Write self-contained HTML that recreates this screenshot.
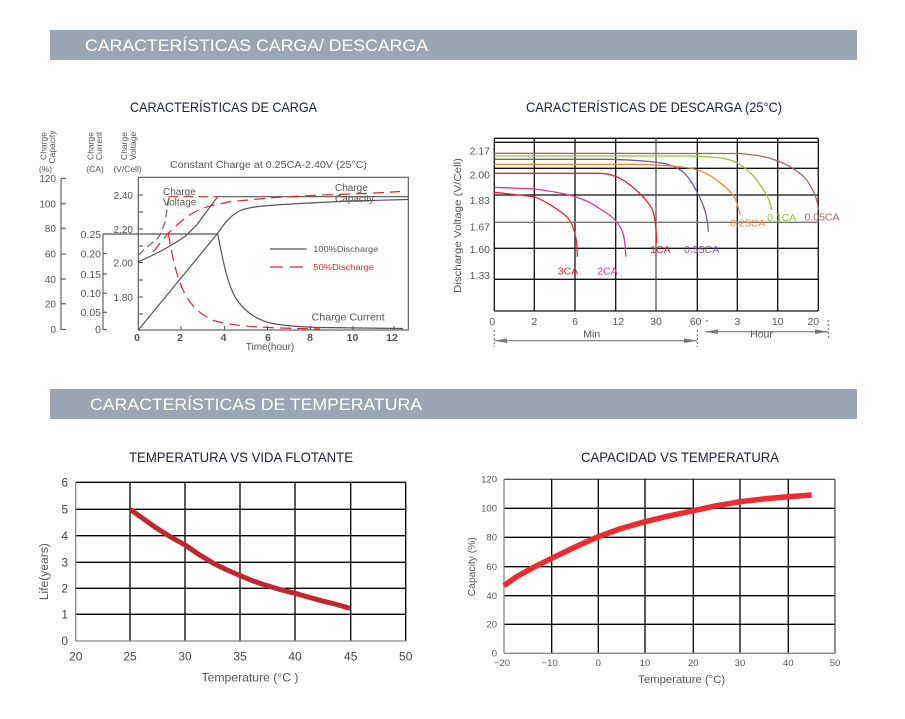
<!DOCTYPE html>
<html><head><meta charset="utf-8"><style>
html,body{margin:0;padding:0;background:#fff;}
svg{display:block;}
text{font-family:"Liberation Sans",sans-serif;}
</style></head><body>
<svg width="905" height="719" viewBox="0 0 905 719" xmlns="http://www.w3.org/2000/svg">
<rect width="905" height="719" fill="#fff"/>

<!-- Header bars -->
<rect x="50" y="30" width="807" height="30" fill="#9ba6b4"/>
<text x="85" y="51" font-size="17" fill="#fff" textLength="343" lengthAdjust="spacingAndGlyphs">CARACTERÍSTICAS CARGA/ DESCARGA</text>
<rect x="50" y="389" width="807" height="30" fill="#9ba6b4"/>
<text x="90" y="410" font-size="17" fill="#fff" textLength="332" lengthAdjust="spacingAndGlyphs">CARACTERÍSTICAS DE TEMPERATURA</text>

<!-- Titles -->
<text x="130" y="112" font-size="14" fill="#1c2033" textLength="187" lengthAdjust="spacingAndGlyphs">CARACTERÍSTICAS DE CARGA</text>
<text x="526" y="112" font-size="14" fill="#1c2033" textLength="256" lengthAdjust="spacingAndGlyphs">CARACTERÍSTICAS DE DESCARGA (25°C)</text>
<text x="129" y="462" font-size="14" fill="#1c2033" textLength="224" lengthAdjust="spacingAndGlyphs">TEMPERATURA VS VIDA FLOTANTE</text>
<text x="581" y="462" font-size="14" fill="#1c2033" textLength="198" lengthAdjust="spacingAndGlyphs">CAPACIDAD VS TEMPERATURA</text>

<!-- ================= CHARGE CHART ================= -->
<g fill="#555" font-size="8.5">
  <text transform="translate(46.5,146) rotate(-90)" text-anchor="middle">Charge</text>
  <text transform="translate(55,147) rotate(-90)" text-anchor="middle">Capacity</text>
  <text x="45.5" y="172" text-anchor="middle">(%)</text>
  <text transform="translate(93.5,146) rotate(-90)" text-anchor="middle">Charge</text>
  <text transform="translate(102,146) rotate(-90)" text-anchor="middle">Current</text>
  <text x="95" y="172" text-anchor="middle">(CA)</text>
  <text transform="translate(127,146) rotate(-90)" text-anchor="middle">Charge</text>
  <text transform="translate(136,146) rotate(-90)" text-anchor="middle">Voltage</text>
  <text x="127.5" y="172" text-anchor="middle">(V/Cell)</text>
</g>
<text x="170" y="168" font-size="10" fill="#555" textLength="197" lengthAdjust="spacingAndGlyphs">Constant Charge at 0.25CA-2.40V  (25°C)</text>

<!-- capacity axis -->
<g stroke="#555" stroke-width="1.1" fill="none">
  <line x1="61" y1="178" x2="61" y2="330"/>
  <line x1="61" y1="178.3" x2="66" y2="178.3"/>
  <line x1="61" y1="203.7" x2="66" y2="203.7"/>
  <line x1="61" y1="228.3" x2="66" y2="228.3"/>
  <line x1="61" y1="254" x2="66" y2="254"/>
  <line x1="61" y1="279" x2="66" y2="279"/>
  <line x1="61" y1="303.7" x2="66" y2="303.7"/>
  <line x1="61" y1="329.5" x2="66" y2="329.5"/>
  <!-- current axis -->
  <line x1="103" y1="234" x2="103" y2="330"/>
  <line x1="103" y1="253.7" x2="107" y2="253.7"/>
  <line x1="103" y1="274" x2="107" y2="274"/>
  <line x1="103" y1="293.3" x2="107" y2="293.3"/>
  <line x1="103" y1="312.3" x2="107" y2="312.3"/>
  <line x1="103" y1="329.5" x2="107" y2="329.5"/>
  <!-- box -->
  <rect x="138.3" y="177.3" width="270" height="152.7"/>
  <!-- voltage ticks -->
  <line x1="138.3" y1="195" x2="143" y2="195"/>
  <line x1="138.3" y1="212" x2="143" y2="212"/>
  <line x1="138.3" y1="229" x2="143" y2="229"/>
  <line x1="138.3" y1="246" x2="143" y2="246"/>
  <line x1="138.3" y1="262.5" x2="143" y2="262.5"/>
  <line x1="138.3" y1="280" x2="143" y2="280"/>
  <line x1="138.3" y1="297" x2="143" y2="297"/>
  <line x1="138.3" y1="314" x2="143" y2="314"/>
  <!-- x ticks -->
  <line x1="181" y1="330" x2="181" y2="326"/>
  <line x1="224.5" y1="330" x2="224.5" y2="326"/>
  <line x1="267.5" y1="330" x2="267.5" y2="326"/>
  <line x1="310.5" y1="330" x2="310.5" y2="326"/>
  <line x1="353" y1="330" x2="353" y2="326"/>
  <line x1="394" y1="330" x2="394" y2="326"/>
</g>
<g fill="#555" font-size="10" text-anchor="end">
  <text x="56" y="182">120</text>
  <text x="56" y="207.5">100</text>
  <text x="56" y="232">80</text>
  <text x="56" y="257.5">60</text>
  <text x="56" y="283">40</text>
  <text x="56" y="307.5">20</text>
  <text x="56" y="333">0</text>
  <text x="101" y="238" font-size="10.5">0.25</text>
  <text x="101" y="257.5" font-size="10.5">0.20</text>
  <text x="101" y="278" font-size="10.5">0.15</text>
  <text x="101" y="297" font-size="10.5">0.10</text>
  <text x="101" y="316" font-size="10.5">0.05</text>
  <text x="101" y="333" font-size="10.5">0</text>
  <text x="133" y="199">2.40</text>
  <text x="133" y="233">2.20</text>
  <text x="133" y="266.5">2.00</text>
  <text x="133" y="301">1.80</text>
</g>
<g fill="#555" font-size="10.5" font-weight="bold" text-anchor="middle">
  <text x="137" y="341">0</text>
  <text x="180" y="341">2</text>
  <text x="223.5" y="341">4</text>
  <text x="268" y="341">6</text>
  <text x="310" y="341">8</text>
  <text x="352.5" y="341">10</text>
  <text x="392" y="341">12</text>
</g>
<text x="270" y="350" font-size="10" fill="#555" text-anchor="middle">Time(hour)</text>

<!-- charge curves -->
<g fill="none" stroke-width="1.2">
  <!-- current 0.25 horizontal -->
  <line x1="103" y1="234" x2="217.7" y2="234" stroke="#555"/>
  <!-- 100% voltage -->
  <path d="M138.3,261.7 L150,256.5 L163,250 L175,243 L185,236.5 L196.7,225 L207,211 L217.7,196.7" stroke="#555"/>
  <!-- plateau -->
  <line x1="217.7" y1="196.7" x2="408" y2="196.7" stroke="#555"/>
  <line x1="168.3" y1="196.7" x2="217.7" y2="196.7" stroke="#e0262b" stroke-dasharray="10 5"/>
  <!-- 50% voltage gray dashed -->
  <path d="M138.3,255 L145,249 L152,243 L158,238 L162,231 L165,222 L167,210 L169,197" stroke="#666" stroke-dasharray="8 4"/>
  <!-- 100% capacity -->
  <path d="M138.3,330 L217.7,233.3 C225,222 232,214 241.7,210 C250,207 262,206 275,205 L300,203.5 L350,201 L408,199.5" stroke="#555"/>
  <!-- 50% capacity red dashed -->
  <path d="M153.3,251.7 L168.3,233.3 C178,224 186,216 196.7,211 C205,207 212,205 220,204 L228,202 L253,199.5 L275,197.5 L320,195 L370,193.3 L400,191.5" stroke="#e0262b" stroke-dasharray="11 6"/>
  <!-- 100% current -->
  <path d="M217.7,234 C222,255 226,280 235,297 C242,308 252,318 270,323 C285,326 300,327 320,327.5 L403,328.5" stroke="#555"/>
  <!-- 50% current red dashed -->
  <path d="M168.3,233.3 C172,255 176,275 183,290 C190,305 200,315 215,321 C230,325 250,327 280,328 L320,329" stroke="#e0262b" stroke-dasharray="11 6"/>
  <!-- legend -->
  <line x1="270" y1="249" x2="306.7" y2="249" stroke="#555"/>
  <line x1="270" y1="267" x2="306.7" y2="267" stroke="#e0262b" stroke-dasharray="13 7"/>
</g>
<text x="313.3" y="252" font-size="8.5" fill="#555" textLength="65" lengthAdjust="spacingAndGlyphs">100%Discharge</text>
<text x="313.3" y="270" font-size="8.5" fill="#e0262b" textLength="60.7" lengthAdjust="spacingAndGlyphs">50%Discharge</text>
<g fill="#555" font-size="10">
  <text x="163" y="195">Charge</text>
  <text x="163" y="205.7">Voltage</text>
  <text x="335" y="191">Charge</text>
  <text x="335" y="202">Capacity</text>
  <text x="311.7" y="320.5" textLength="73" lengthAdjust="spacingAndGlyphs">Charge Current</text>
</g>

<!-- ================= DISCHARGE CHART ================= -->
<g stroke="#111" stroke-width="1.3" fill="none">
  <line x1="494.3" y1="138.3" x2="818.3" y2="138.3"/>
  <line x1="494.3" y1="142.3" x2="818.3" y2="142.3"/>
  <line x1="494.3" y1="168.3" x2="818.3" y2="168.3"/>
  <line x1="494.3" y1="195" x2="818.3" y2="195"/>
  <line x1="494.3" y1="248.3" x2="818.3" y2="248.3"/>
  <line x1="494.3" y1="279.3" x2="818.3" y2="279.3"/>
  <line x1="494.3" y1="311" x2="818.3" y2="311"/>
  <line x1="494.3" y1="138.3" x2="494.3" y2="311"/>
  <line x1="534.3" y1="138.3" x2="534.3" y2="311"/>
  <line x1="575" y1="138.3" x2="575" y2="311"/>
  <line x1="615.7" y1="138.3" x2="615.7" y2="311"/>
  <line x1="697.3" y1="138.3" x2="697.3" y2="311"/>
  <line x1="737.3" y1="138.3" x2="737.3" y2="311"/>
  <line x1="777.7" y1="138.3" x2="777.7" y2="311"/>
  <line x1="818.3" y1="138.3" x2="818.3" y2="311"/>
  <line x1="656" y1="138.3" x2="656" y2="311" stroke="#555"/>
  <line x1="494.3" y1="222.3" x2="818.3" y2="222.3" stroke="#777"/>
</g>
<g fill="none" stroke-width="1.3">
  <path d="M494.3,153.3 L740,153.5 C752,154.5 762,156 770,158.3 C778,161 785,163 790,166.7 C797,171 803,175 806.7,180 C811,186 813,190 815,195 C817,200 818,206 818.3,210" stroke="#a5695a"/>
  <path d="M494.3,156 L690,156 C705,156.5 715,157 723.3,158.3 C732,160 738,163 743.3,166.7 C750,172 754,176 756.7,180 C761,186 764,190 766.7,195 C769,200 771,206 771.7,210" stroke="#8dc63f"/>
  <path d="M494.3,159.3 L610,159.3 C635,160 655,162 663.3,163.3 C672,165 678,168 683,172 C690,178 695,188 699,196 C703,204 706,212 707,220 C708,226 708.3,230 708.3,231.7" stroke="#7d55a5"/>
  <path d="M494.3,164.3 L640,164.3 C660,165 675,166 690,168 C700,170 710,175 716.7,180 C723,185 727,188 730,191.7 C734,196 736,199 737.5,205 C739,210 740,214 740,215" stroke="#f7882f"/>
  <path d="M494.3,173.3 L600,173.3 C612,174 620,177 630,185 C640,193 647,200 651.7,208.3 C654,213 655,218 655.5,225 C656.5,233 656.7,238 656.7,243.3" stroke="#e9242b"/>
  <path d="M494.3,187.3 L534.3,189 C550,191 562,193 573.3,196 C585,200 592,203 596.7,206.7 C605,212 610,215 613.3,218.3 C618,223 622,228 623.5,235 C625,242 625.7,250 625.7,256.7" stroke="#e2338b"/>
  <path d="M494.3,192.3 L534.3,196.7 C545,201 558,209 566.7,216.7 C571,221 574,228 575.7,236.7 C577,244 577.3,250 577.3,256.7" stroke="#e9242b"/>
</g>
<g font-size="10.5" text-anchor="middle">
  <text x="568" y="274.5" fill="#e9242b">3CA</text>
  <text x="607.5" y="274.5" fill="#e2338b">2CA</text>
  <text x="660.3" y="253" fill="#e9242b">1CA</text>
  <text x="701.7" y="253" fill="#7d55a5">0.55CA</text>
  <text x="747.7" y="226.5" fill="#f7882f">0.25CA</text>
  <text x="781.7" y="221" fill="#8dc63f">0.1CA</text>
  <text x="822" y="220.5" fill="#a5695a">0.05CA</text>
</g>
<g fill="#555" font-size="10.5" text-anchor="end">
  <text x="490" y="154.7">2.17</text>
  <text x="490" y="178.3">2.00</text>
  <text x="490" y="204">1.83</text>
  <text x="490" y="230.7">1.67</text>
  <text x="490" y="253">1.60</text>
  <text x="490" y="279">1.33</text>
</g>
<g fill="#555" font-size="10.5" text-anchor="middle">
  <text x="492.3" y="325">0</text>
  <text x="534.3" y="325">2</text>
  <text x="575" y="325">6</text>
  <text x="618.3" y="325">12</text>
  <text x="656" y="325">30</text>
  <text x="695.7" y="325">60</text>
  <text x="737.3" y="325">3</text>
  <text x="777.7" y="325">10</text>
  <text x="813.3" y="325">20</text>
  <text x="591.7" y="337.5">Min</text>
  <text x="761.5" y="337.5">Hour</text>
</g>
<text transform="translate(461,225.5) rotate(-90)" font-size="10.5" fill="#555" text-anchor="middle" textLength="135" lengthAdjust="spacingAndGlyphs">Discharge Voltage (V/Cell)</text>
<g stroke="#666" stroke-width="1" fill="none">
  <line x1="705.5" y1="321" x2="708" y2="321"/>
  <line x1="827" y1="321" x2="829.5" y2="321"/>
  <line x1="494.3" y1="340.7" x2="697" y2="340.7"/>
  <line x1="705" y1="331.7" x2="828.3" y2="331.7"/>
  <line x1="494.3" y1="330" x2="494.3" y2="347" stroke-dasharray="2 2"/>
  <line x1="697.3" y1="330" x2="697.3" y2="347" stroke-dasharray="2 2"/>
  <line x1="828.3" y1="324" x2="828.3" y2="338" stroke-dasharray="2 2"/>
</g>
<g fill="#777">
  <polygon points="494.3,340.7 507,338.4 507,343"/>
  <polygon points="697,340.7 684,338.4 684,343"/>
  <polygon points="705,331.7 718,329.4 718,334"/>
  <polygon points="828.3,331.7 815,329.4 815,334"/>
</g>

<!-- ================= LIFE CHART ================= -->
<g stroke="#000" stroke-width="1.3" fill="none">
  <line x1="75.7" y1="482.3" x2="405.7" y2="482.3"/>
  <line x1="75.7" y1="509.3" x2="405.7" y2="509.3"/>
  <line x1="75.7" y1="535.7" x2="405.7" y2="535.7"/>
  <line x1="75.7" y1="562.3" x2="405.7" y2="562.3"/>
  <line x1="75.7" y1="588.3" x2="405.7" y2="588.3"/>
  <line x1="75.7" y1="614.3" x2="405.7" y2="614.3"/>
  <line x1="130" y1="482.3" x2="130" y2="641"/>
  <line x1="185" y1="482.3" x2="185" y2="641"/>
  <line x1="240" y1="482.3" x2="240" y2="641"/>
  <line x1="295" y1="482.3" x2="295" y2="641"/>
  <line x1="350.7" y1="482.3" x2="350.7" y2="641"/>
  <line x1="405.7" y1="482.3" x2="405.7" y2="641"/>
  <line x1="75.7" y1="482.3" x2="75.7" y2="641" stroke="#888"/>
  <line x1="75.7" y1="641" x2="405.7" y2="641" stroke="#888"/>
</g>
<polyline points="130,509.3 143,518.5 156.7,528.3 170,536.5 185,545 199,554.5 213.3,563.3 226,569.5 240,575.5 252,580.5 263.3,584.5 280,589.5 295,593.3 308,597 320,600.3 335,604 350,608.3" fill="none" stroke="#c1272d" stroke-width="5" stroke-linejoin="round"/>
<g fill="#444" font-size="12" text-anchor="end">
  <text x="68" y="486.5">6</text>
  <text x="68" y="513.5">5</text>
  <text x="68" y="540">4</text>
  <text x="68" y="566.5">3</text>
  <text x="68" y="592.5">2</text>
  <text x="68" y="618.5">1</text>
  <text x="68" y="645">0</text>
</g>
<g fill="#444" font-size="12" text-anchor="middle">
  <text x="75.7" y="660.5">20</text>
  <text x="130" y="660.5">25</text>
  <text x="185" y="660.5">30</text>
  <text x="240" y="660.5">35</text>
  <text x="295" y="660.5">40</text>
  <text x="350.7" y="660.5">45</text>
  <text x="405.7" y="660.5">50</text>
</g>
<text transform="translate(48,571.7) rotate(-90)" font-size="11.5" fill="#555" text-anchor="middle" textLength="57" lengthAdjust="spacingAndGlyphs">Life(years)</text>
<text x="250" y="681.5" font-size="12" fill="#555" text-anchor="middle" textLength="97" lengthAdjust="spacingAndGlyphs">Temperature (°C )</text>

<!-- ================= CAPACITY CHART ================= -->
<g stroke="#000" stroke-width="1.3" fill="none">
  <line x1="504" y1="479.3" x2="835" y2="479.3" stroke="#555"/>
  <line x1="504" y1="508.3" x2="835" y2="508.3"/>
  <line x1="504" y1="537.3" x2="835" y2="537.3"/>
  <line x1="504" y1="566.7" x2="835" y2="566.7"/>
  <line x1="504" y1="595.7" x2="835" y2="595.7"/>
  <line x1="504" y1="624.3" x2="835" y2="624.3"/>
  <line x1="551.7" y1="479.3" x2="551.7" y2="653.3"/>
  <line x1="598.3" y1="479.3" x2="598.3" y2="653.3"/>
  <line x1="645" y1="479.3" x2="645" y2="653.3"/>
  <line x1="693.3" y1="479.3" x2="693.3" y2="653.3"/>
  <line x1="740" y1="479.3" x2="740" y2="653.3"/>
  <line x1="788.3" y1="479.3" x2="788.3" y2="653.3"/>
  <line x1="835" y1="479.3" x2="835" y2="653.3" stroke="#555"/>
  <line x1="504" y1="479.3" x2="504" y2="653.3" stroke="#888"/>
  <line x1="504" y1="653.3" x2="835" y2="653.3" stroke="#888"/>
</g>
<polyline points="504,585.7 517,576.5 531.7,568.3 551.7,558.3 575,547 598.3,536.7 621,528.5 645,521.7 670,515.7 693.3,510.7 716,505.8 740,501.7 765,498.8 788.3,496.7 811.7,495" fill="none" stroke="#ee2b2f" stroke-width="5.5" stroke-linejoin="round"/>
<g fill="#555" font-size="9.5" text-anchor="end">
  <text x="497" y="482.5">120</text>
  <text x="497" y="511.5">100</text>
  <text x="497" y="540.5">80</text>
  <text x="497" y="570">60</text>
  <text x="497" y="599">40</text>
  <text x="497" y="627.5">20</text>
  <text x="497" y="656.5">0</text>
</g>
<g fill="#555" font-size="9.5" text-anchor="middle">
  <text x="502" y="666">−20</text>
  <text x="549.7" y="666">−10</text>
  <text x="598.3" y="666">0</text>
  <text x="645" y="666">10</text>
  <text x="693.3" y="666">20</text>
  <text x="740" y="666">30</text>
  <text x="788.3" y="666">40</text>
  <text x="835" y="666">50</text>
</g>
<text transform="translate(475,566.7) rotate(-90)" font-size="10.5" fill="#555" text-anchor="middle" textLength="59" lengthAdjust="spacingAndGlyphs">Capacity (%)</text>
<text x="681.7" y="683" font-size="11" fill="#555" text-anchor="middle" textLength="87" lengthAdjust="spacingAndGlyphs">Temperature (°C)</text>

</svg>
</body></html>
